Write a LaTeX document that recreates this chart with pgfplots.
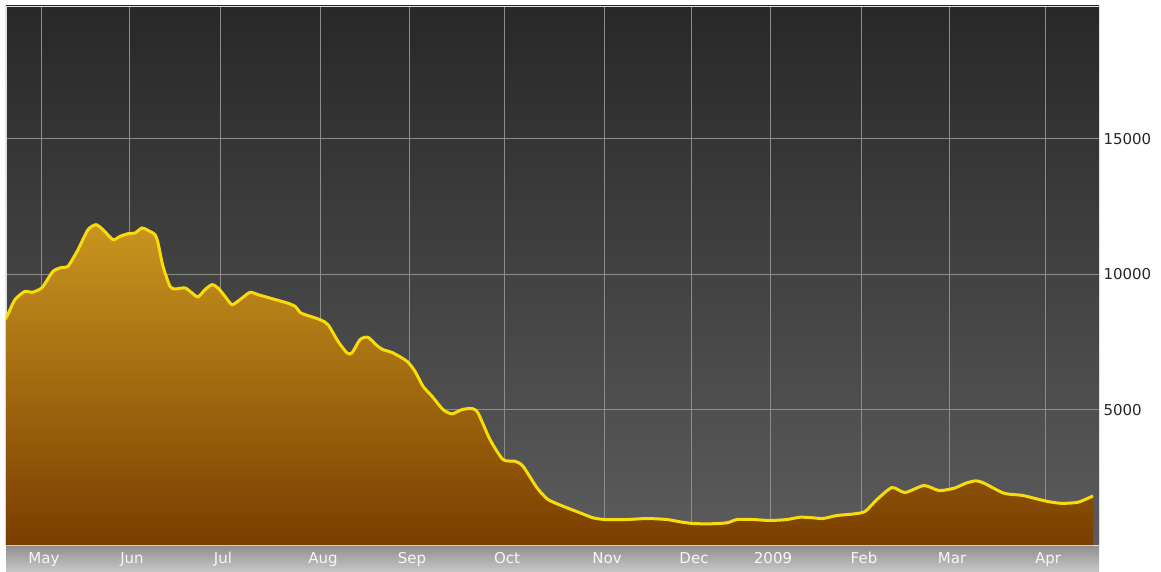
\documentclass[border=0pt]{standalone}
\usepackage{pgfplots}
\pgfplotsset{compat=1.18}
\usepackage{fontspec}
\setmainfont{DejaVu Sans}
\definecolor{bgTop}{HTML}{282828}
\definecolor{bgBot}{HTML}{5C5C5C}
\definecolor{areaTop}{HTML}{C9951F}
\definecolor{areaBot}{HTML}{7A3E00}
\definecolor{lineY}{HTML}{F7DC0A}
\definecolor{gridC}{HTML}{8C8C8C}
\definecolor{stripTop}{HTML}{8E8E8E}
\definecolor{stripBot}{HTML}{C6C6C6}
\pgfplotstableread{
x y
6 8395
7 8443
15 9059
25 9365
32 9328
42 9502
53 10103
62 10251
68 10288
78 10904
88 11642
96 11826
103 11642
113 11273
120 11395
128 11494
135 11520
142 11705
148 11616
155 11457
158 11151
163 10288
170 9550
175 9454
185 9491
192 9306
198 9159
205 9428
212 9612
218 9491
225 9181
232 8874
240 9059
250 9328
258 9243
273 9085
287 8937
295 8812
300 8590
305 8505
320 8321
328 8136
338 7520
347 7092
352 7092
360 7583
368 7668
377 7362
383 7214
393 7092
407 6782
415 6413
423 5860
432 5491
443 5000
452 4841
462 5000
472 5037
478 4878
490 3893
503 3155
515 3092
523 2908
537 2111
548 1679
563 1432
580 1188
593 1004
605 941
627 941
647 978
667 941
680 856
693 793
710 782
727 819
737 941
753 941
770 904
787 941
800 1026
813 1004
823 978
837 1089
853 1144
865 1236
877 1679
892 2122
905 1937
924 2196
939 2011
954 2096
966 2284
976 2369
984 2284
1004 1911
1023 1827
1045 1627
1061 1539
1078 1579
1093 1812
}\datatable
\begin{document}
\begin{tikzpicture}
\useasboundingbox (-6pt,-26pt) rectangle (1155pt,545pt);
\shade[top color=stripTop, bottom color=stripBot] (0pt,-26pt) rectangle (1093pt,0pt);
\begin{axis}[
  scale only axis,
  width=1093pt, height=539pt,
  xmin=6, xmax=1099, ymin=0, ymax=19900,
  scaled y ticks=false, scaled x ticks=false,
  axis background/.style={top color=bgTop, bottom color=bgBot},
  axis line style={draw=white!75!gray, line width=0.6pt},
  major tick length=0pt,
  xtick={41,129,220,320,409,504,604,691,770,861,949,1045},
  xticklabels={May,Jun,Jul,Aug,Sep,Oct,Nov,Dec,2009,Feb,Mar,Apr},
  xticklabel style={anchor=base, yshift=-18pt, xshift=3pt, text=white!93!gray, font=\fontsize{15}{17}\selectfont},
  ytick={5000,10000,15000},
  yticklabels={5000,10000,15000},
  yticklabel pos=right,
  yticklabel style={anchor=west, xshift=1pt, text=black!85, font=\fontsize{15}{17}\selectfont},
  xmajorgrids, ymajorgrids,
  major grid style={draw=gridC, line width=0.8pt},
  clip=true,
]
\addplot[draw=none, top color=areaTop, bottom color=areaBot, smooth, tension=0.4] table {\datatable} \closedcycle;
\addplot[color=lineY, line width=3pt, smooth, tension=0.4] table {\datatable};
\end{axis}
\end{tikzpicture}
\end{document}
